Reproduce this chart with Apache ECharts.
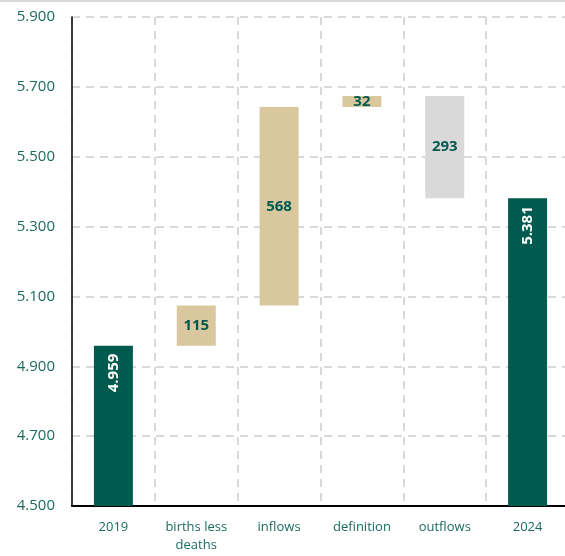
<!DOCTYPE html>
<html><head><meta charset="utf-8">
<script src="https://cdn.jsdelivr.net/npm/echarts@6/dist/echarts.min.js"></script>
<style>html,body{margin:0;padding:0;background:#fff}#c{width:565px;height:556px}</style>
</head><body><div id="c"></div>
<script>
const categories = ['2019', 'births less\ndeaths', 'inflows', 'definition', 'outflows', '2024'];
const values = [4959, 115, 568, 32, -293, 5381];
const kinds = ['total', 'delta', 'delta', 'delta', 'delta', 'total'];
const yTicks = [4500, 4700, 4900, 5100, 5300, 5500, 5700, 5900];

const DARK = '#005a4e', TAN = '#d9c89e', GREY = '#d9d9d9', TXT = '#1a6b5e';
const FONT = 'Open Sans';
const fmt = v => { const s = String(Math.abs(v)); return s.length > 3 ? s.slice(0, -3) + '.' + s.slice(-3) : s; };

const base = [], shown = [];
let running = 0;
values.forEach((v, i) => {
  if (kinds[i] === 'total') { base.push(0); shown.push(v); running = v; }
  else if (v >= 0) { base.push(running); shown.push(v); running += v; }
  else { base.push(running + v); shown.push(-v); running += v; }
});

const visData = shown.map((v, i) => {
  const total = kinds[i] === 'total';
  const color = total ? DARK : (values[i] < 0 ? GREY : TAN);
  return {
    value: v,
    itemStyle: { color },
    label: total ? {
      show: true, position: 'insideTop', rotate: 90, align: 'right', verticalAlign: 'middle',
      distance: 8, color: '#fff', fontWeight: 'bold', fontSize: 15, fontFamily: FONT,
      formatter: () => fmt(values[i])
    } : {
      show: true, position: 'inside', color: DARK, fontWeight: 'bold', fontSize: 15, fontFamily: FONT,
      formatter: () => fmt(values[i])
    }
  };
});

const chart = echarts.init(document.getElementById('c'));
chart.setOption({
  animation: false,
  textStyle: { fontFamily: FONT },
  grid: { left: 72, width: 497, top: 17, height: 489, outerBoundsMode: 'none', containLabel: false },
  graphic: [{ type: 'rect', shape: { x: 0, y: 0, width: 565, height: 2 }, style: { fill: '#d9d9d9' } }],
  xAxis: {
    type: 'category', data: categories,
    axisLine: { show: true, lineStyle: { color: '#000', width: 2 } },
    axisTick: { show: false },
    axisLabel: { color: TXT, fontSize: 13, fontFamily: FONT, margin: 12, lineHeight: 18, interval: 0 },
    splitLine: { show: true, lineStyle: { color: '#d9d9d9', type: [8, 6], width: 2 } }
  },
  yAxis: {
    type: 'value', min: yTicks[0], max: yTicks[yTicks.length - 1], interval: 200,
    axisLine: { show: true, lineStyle: { color: '#000', width: 1.5 } },
    axisTick: { show: false },
    axisLabel: { color: TXT, fontSize: 15, fontFamily: FONT, margin: 17, formatter: v => fmt(v) },
    splitLine: { show: true, lineStyle: { color: '#d9d9d9', type: [8, 6], width: 2 } }
  },
  series: [
    { type: 'bar', stack: 'w', data: base, barWidth: 39, itemStyle: { color: 'transparent' }, silent: true, clip: true },
    { type: 'bar', stack: 'w', data: visData, barWidth: 39, clip: true }
  ]
});
</script></body></html>
